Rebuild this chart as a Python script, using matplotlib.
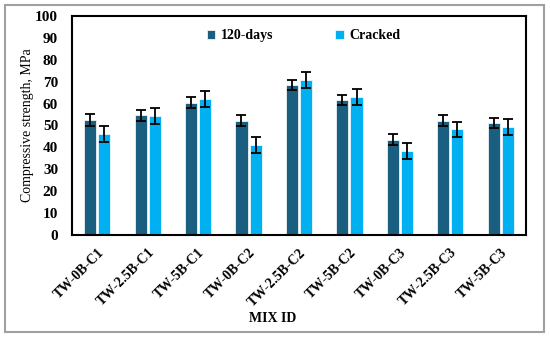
import numpy as np
import matplotlib.pyplot as plt
from matplotlib.patches import Rectangle

mixes = ["TW-0B-C1", "TW-2.5B-C1", "TW-5B-C1", "TW-0B-C2", "TW-2.5B-C2",
         "TW-5B-C2", "TW-0B-C3", "TW-2.5B-C3", "TW-5B-C3"]
days120 = [52.6, 54.7, 60.5, 52.2, 68.4, 61.6, 43.5, 52.2, 51.2]
days120_err = [2.6, 2.5, 2.3, 2.5, 2.3, 2.2, 2.4, 2.6, 2.4]
cracked = [46.0, 54.2, 62.0, 41.1, 70.8, 62.9, 38.3, 48.2, 49.4]
cracked_err = [3.7, 3.7, 3.7, 3.7, 3.7, 3.6, 3.7, 3.5, 3.7]

plt.rcParams['font.family'] = ['Liberation Serif', 'DejaVu Serif']
plt.rcParams['font.weight'] = 'bold'

fig = plt.figure(figsize=(5.5, 3.37), dpi=100)
ax = fig.add_axes([72 / 550, 1 - 235 / 337, 454 / 550, 219 / 337])

x = np.arange(len(mixes))
w = 0.24
err_kw = dict(ecolor="black", capsize=3.5, elinewidth=1.3, capthick=1.3)
ax.bar(x - 0.14, days120, w, yerr=days120_err, color="#1a5e80",
       edgecolor="white", linewidth=0.5, label="120-days", error_kw=err_kw)
ax.bar(x + 0.14, cracked, w, yerr=cracked_err, color="#00b0f0",
       edgecolor="white", linewidth=0.5, label="Cracked", error_kw=err_kw)

ax.set_xlim(-0.5, len(mixes) - 0.5)
ax.set_ylim(0, 100)
ax.set_yticks(range(0, 101, 10))
ax.set_xticks(x)
ax.set_xticklabels(mixes, rotation=45, ha="right", rotation_mode="anchor",
                   fontsize=10, fontweight="bold")
ax.tick_params(axis="both", length=0, pad=8)
ax.tick_params(axis="y", labelsize=11, pad=10)
for lab in ax.get_yticklabels():
    lab.set_fontweight("bold")
for s in ax.spines.values():
    s.set_linewidth(1.5)
    s.set_color("black")

ax.set_ylabel("Compressive strength, MPa", fontsize=10, fontweight="normal",
              va="center")
ax.yaxis.set_label_coords((27 - 72) / 454, 0.5)
ax.set_xlabel("MIX ID", fontsize=10, fontweight="bold", va="center")
ax.xaxis.set_label_coords((273 - 72) / 454, -(318 - 235) / 219)

leg = ax.legend(loc="center", bbox_to_anchor=(0.51, 0.91), ncol=2, frameon=False,
                fontsize=10, handlelength=0.6, handleheight=0.6,
                handletextpad=0.4, columnspacing=4.5)

fig.patches.append(Rectangle((5 / 550, 1 - 332 / 337), 539 / 550, 327 / 337,
                             transform=fig.transFigure, fill=False,
                             edgecolor="#a0a0a0", linewidth=1.5))

fig.savefig("out.png", dpi=100)
